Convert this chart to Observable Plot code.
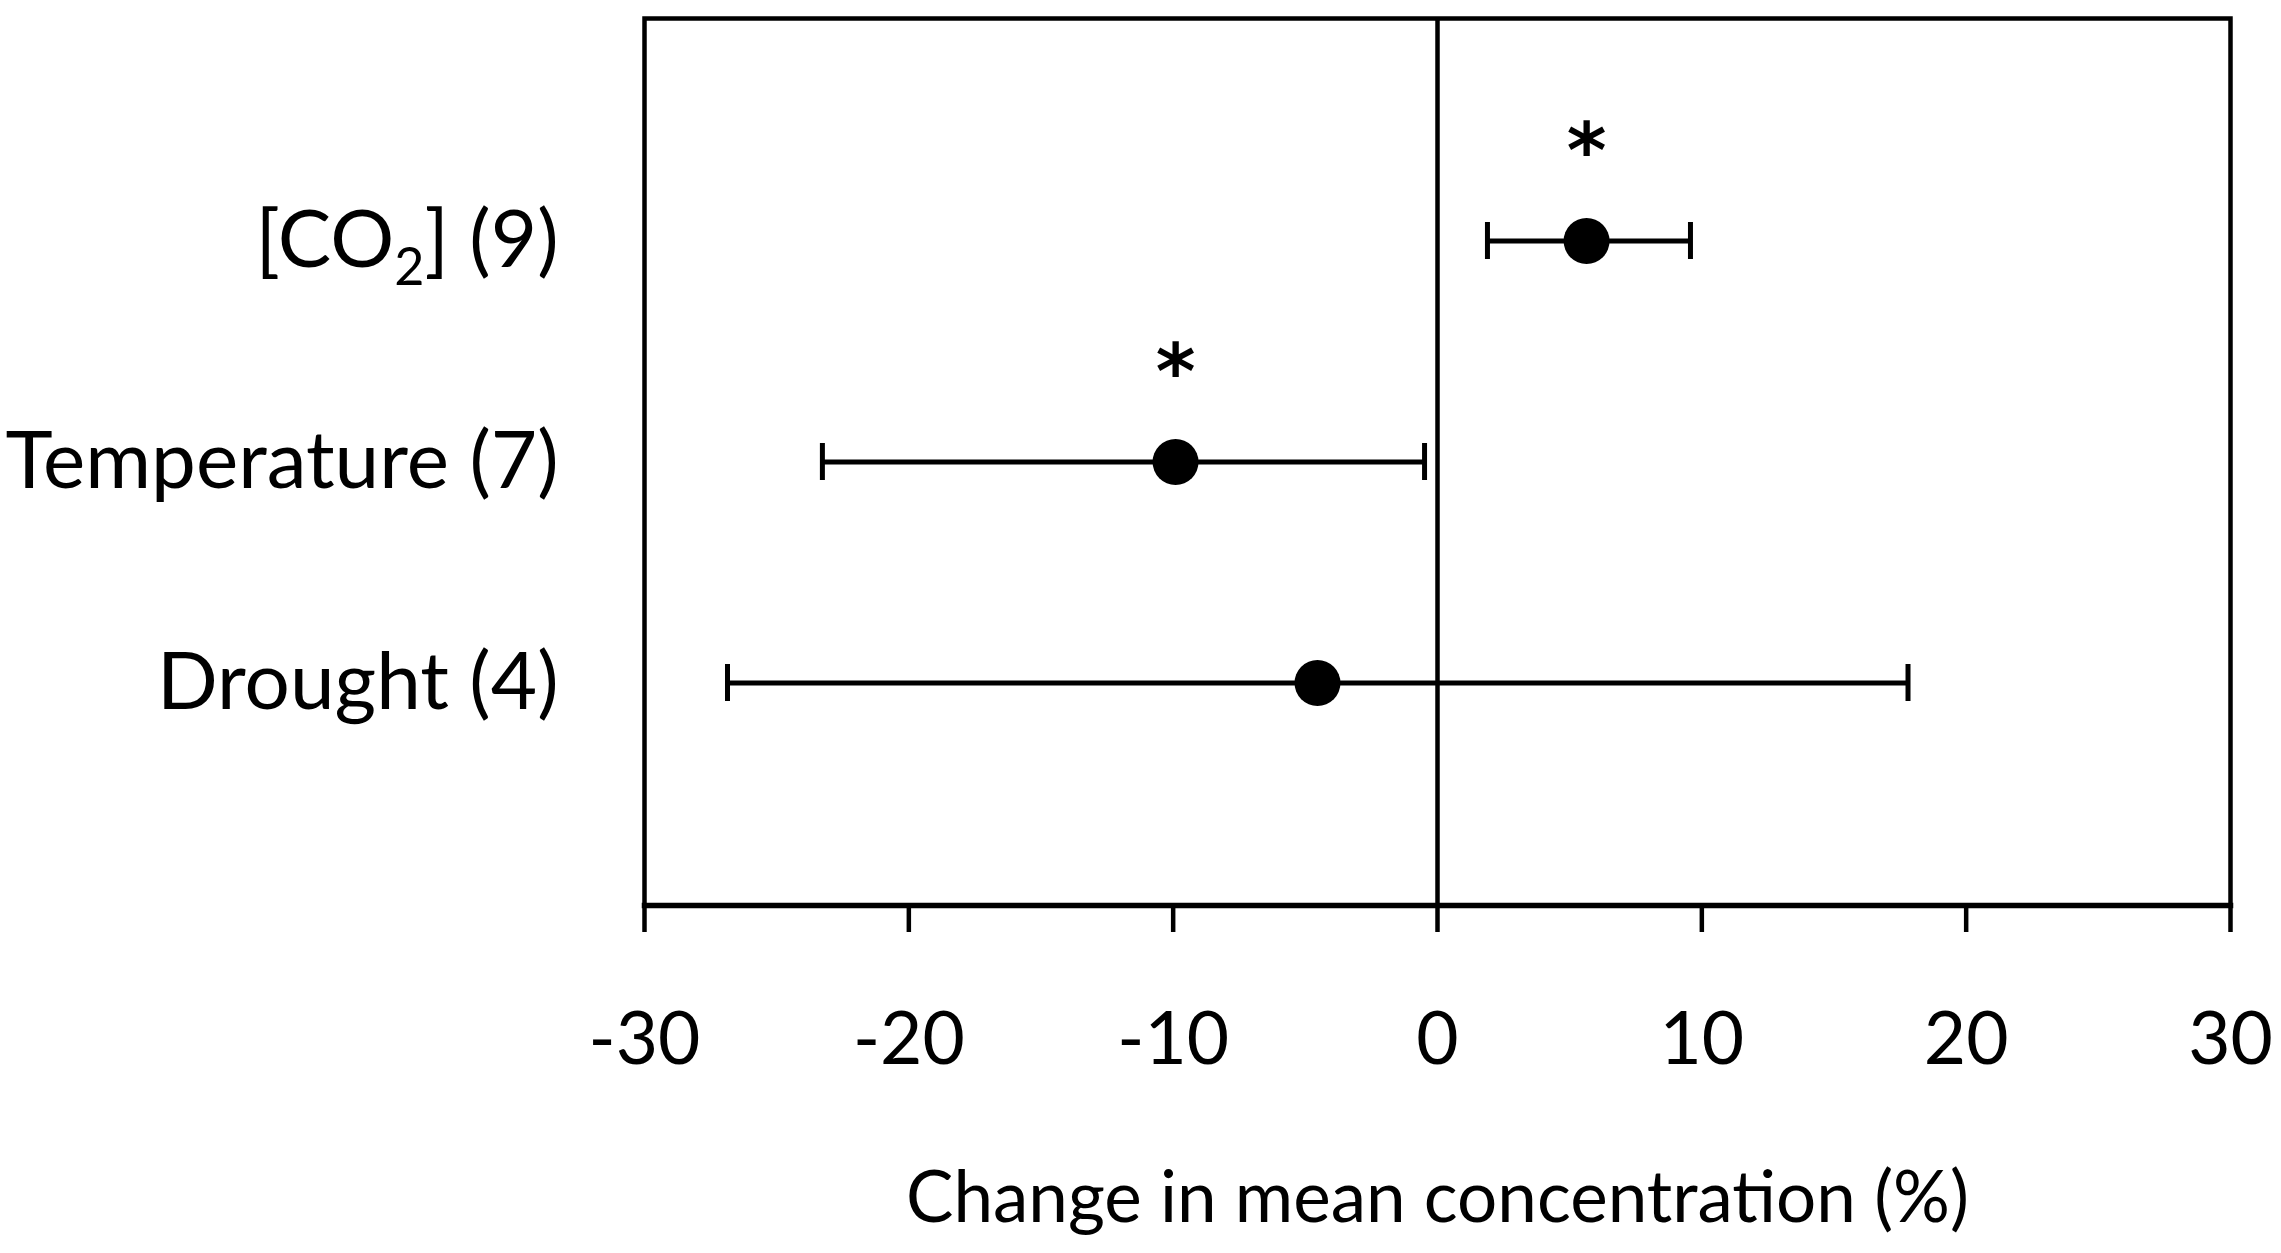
<!DOCTYPE html>
<html><head><meta charset="utf-8">
<script src="https://cdn.jsdelivr.net/npm/d3@7"></script>
<script src="https://cdn.jsdelivr.net/npm/@observablehq/plot@0.6"></script>
<style>html,body{margin:0;padding:0;background:#fff;overflow:hidden}</style>
</head><body><div id="chart"></div>
<script>
const categories = ["[CO2] (9)", "Temperature (7)", "Drought (4)"];
const means = [5.64, -9.91, -4.54];
const lower = [1.89, -23.27, -26.86];
const upper = [9.57, -0.49, 17.8];
const significant = [true, true, false];
const xTicks = [-30, -20, -10, 0, 10, 20, 30];
const xLabel = "Change in mean concentration (%)";

const data = categories.map((c, i) => ({category: c, mean: means[i], lo: lower[i], hi: upper[i], sig: significant[i]}));

const FONT = "Lato, 'Open Sans', sans-serif";
const chart = Plot.plot({
  width: 2281, height: 1253,
  marginLeft: 644, marginRight: 51, marginTop: 18, marginBottom: 348,
  style: {fontFamily: FONT, background: "white", color: "black", overflow: "visible"},
  x: {domain: [-30, 30]},
  y: {domain: categories, type: "band", paddingInner: 0, paddingOuter: 0.5},
  marks: [
    Plot.frame({stroke: "black", strokeWidth: 4.5}),
    Plot.frame({anchor: "bottom", stroke: "black", strokeWidth: 5.5}),
    Plot.ruleX([0], {stroke: "black", strokeWidth: 4.5}),
    Plot.axisX({ticks: xTicks, tickSize: 27, tickPadding: 80, fontSize: 73, strokeWidth: 4.5, label: null,
      tickFormat: d => (d < 0 ? "-" + Math.abs(d) : String(d))}),
    Plot.axisY({tickSize: 0, tickPadding: 86, fontSize: 80, label: null}),
    Plot.ruleY(data, {y: "category", x1: "lo", x2: "hi", stroke: "black", strokeWidth: 5}),
    Plot.tickX(data, {x: "lo", y: "category", stroke: "black", strokeWidth: 5, insetTop: 92, insetBottom: 92}),
    Plot.tickX(data, {x: "hi", y: "category", stroke: "black", strokeWidth: 5, insetTop: 92, insetBottom: 92}),
    Plot.dot(data, {x: "mean", y: "category", r: 23, fill: "black", stroke: "none"}),
    Plot.text(data.filter(d => d.sig), {x: "mean", y: "category", text: () => "*", dy: -88, fontSize: 76, fontWeight: "bold", fontFamily: "DejaVu Sans"}),
    Plot.text([xLabel], {frameAnchor: "bottom", dy: 316, fontSize: 71, fill: "black"})
  ]
});

const ns = "http://www.w3.org/2000/svg";
for (const t of chart.querySelectorAll("text")) {
  if (t.textContent === "[CO2] (9)") {
    t.textContent = "";
    const a = document.createElementNS(ns, "tspan"); a.textContent = "[CO";
    const b = document.createElementNS(ns, "tspan"); b.textContent = "2";
    b.setAttribute("font-size", "52"); b.setAttribute("dy", "18");
    const c = document.createElementNS(ns, "tspan"); c.textContent = "] (9)";
    c.setAttribute("dy", "-18");
    t.append(a, b, c);
  }
}
document.getElementById("chart").append(chart);
</script>
</body></html>
